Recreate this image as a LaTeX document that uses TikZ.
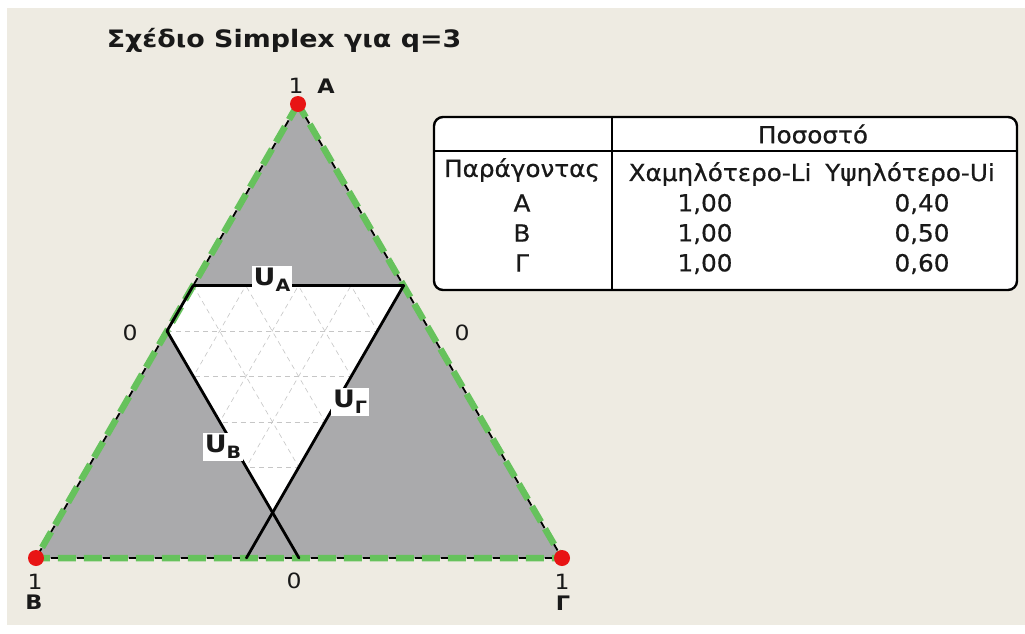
\documentclass[tikz,border=0pt]{standalone}
\usepackage{fontspec}
\setmainfont{DejaVu Sans}[FakeStretch=1.12]
\newfontfamily\tblfont{DejaVu Sans}[FakeStretch=1.05, FakeBold=0.6]
\usetikzlibrary{calc}
\definecolor{bg}{RGB}{238,235,226}
\definecolor{tri}{RGB}{170,170,172}
\definecolor{grn}{RGB}{102,194,92}
\definecolor{dotred}{RGB}{232,20,20}
\definecolor{gridc}{RGB}{198,198,198}
\definecolor{txt}{RGB}{25,25,25}
\tikzset{
  edgegreen/.style={draw=grn, line width=6.5pt, dash pattern=on 18pt off 8pt},
  edgeblack/.style={draw=black, line width=1.8pt, dash pattern=on 7pt off 19pt, dash phase=-19pt},
  bound/.style={draw=black, line width=2.8pt, line cap=round},
  gridline/.style={draw=gridc, line width=0.6pt, dash pattern=on 5pt off 4pt},
  vdot/.style={circle, fill=dotred, inner sep=0pt, minimum size=16pt},
  tlabel/.style={font=\tblfont\fontsize{23.5}{25}\selectfont, text=txt, inner sep=0pt},
  axlabel/.style={font=\fontsize{21}{23}\selectfont, text=txt, inner sep=0pt},
  axbold/.style={font=\bfseries\fontsize{20}{22}\selectfont, text=txt, inner sep=0pt},
  ulabel/.style={fill=white, font=\bfseries\fontsize{24}{26}\selectfont, text=txt, inner sep=2pt}
}
\newcommand{\ulab}[1]{U\raisebox{-0.45ex}{\fontsize{17}{17}\selectfont #1}}
\begin{document}
\begin{tikzpicture}[x=1pt,y=-1pt]
\useasboundingbox (0,0) rectangle (1025,633);
\fill[white] (0,0) rectangle (1025,633);
\fill[bg] (7,8) rectangle (1025,625);

% title
\node[font=\bfseries\fontsize{24}{27}\selectfont, text=txt, inner sep=0pt] (title) at (284,40) {Σχέδιο Simplex για q=3};

% vertices
\coordinate (A) at (298,104);
\coordinate (B) at (36,558);
\coordinate (G) at (562,558);

% gray triangle
\fill[tri] (A) -- (B) -- (G) -- cycle;

% feasible region
\coordinate (P1) at (barycentric cs:A=0.6,B=0.4,G=0);
\coordinate (P2) at (barycentric cs:A=0.6,B=0,G=0.4);
\coordinate (P3) at (barycentric cs:A=0.1,B=0.5,G=0.4);
\coordinate (P4) at (barycentric cs:A=0.5,B=0.5,G=0);
\coordinate (QB) at (barycentric cs:A=0,B=0.5,G=0.5);
\coordinate (QG) at (barycentric cs:A=0,B=0.6,G=0.4);
\fill[white] (P1) -- (P2) -- (P3) -- (P4) -- cycle;
\begin{scope}
\clip (P1) -- (P2) -- (P3) -- (P4) -- cycle;
\foreach \k in {0.1,0.2,0.3,0.4,0.5,0.6,0.7,0.8,0.9}{
  \pgfmathsetmacro\m{1-\k}
  \draw[gridline] (barycentric cs:A=\k,B=\m,G=0) -- (barycentric cs:A=\k,B=0,G=\m);
  \draw[gridline] (barycentric cs:B=\k,A=\m,G=0) -- (barycentric cs:B=\k,A=0,G=\m);
  \draw[gridline] (barycentric cs:G=\k,A=\m,B=0) -- (barycentric cs:G=\k,A=0,B=\m);
}
\end{scope}

% triangle edges
\draw[edgegreen] (A) -- (B) -- (G) -- cycle;
\draw[edgeblack] (A) -- (B) -- (G) -- cycle;

% bound lines
\draw[bound] (P1) -- (P2);
\draw[bound] (P2) -- (QG);
\draw[bound] (P4) -- (QB);
\draw[bound] (P1) -- (P4);

% labels on bounds
\node[ulabel] (uA) at (272,280) {\ulab{A}};
\node[ulabel] (uB) at (223,447) {\ulab{B}};
\node[ulabel] (uG) at (350,402) {\ulab{Γ}};

% vertex dots
\node[vdot] (dA) at (A) {};
\node[vdot] (dB) at (B) {};
\node[vdot] (dG) at (G) {};

% axis labels
\node[axlabel] (oneA) at (296,86) {1};
\node[axbold] (labA) at (326,86) {A};
\node[axlabel] (oneB) at (35,582) {1};
\node[axbold] (labB) at (34,602) {B};
\node[axlabel] (oneG) at (562,582) {1};
\node[axbold] (labG) at (563,603) {Γ};
\node[axlabel] (zeroL) at (130,333) {0};
\node[axlabel] (zeroR) at (462,333) {0};
\node[axlabel] (zeroB) at (294,581) {0};

% table
\node[draw=black, fill=white, line width=2.4pt, rounded corners=9pt, minimum width=583pt, minimum height=173pt, inner sep=0pt] (tbl) at (725.5,203.5) {};
\draw[line width=1.3pt] (612,117) -- (612,290);
\draw[line width=1.3pt] (434,151) -- (1017,151);
\node[tlabel] (hdr) at (813,134) {Ποσοστό};
\node[tlabel] (fac) at (522,170) {Παράγοντας};
\node[tlabel] (lo) at (720,174) {Χαμηλότερο-Li};
\node[tlabel] (hi) at (910,174) {Υψηλότερο-Ui};
\node[tlabel] (rA) at (522,203) {A};
\node[tlabel] (rB) at (522,233) {B};
\node[tlabel] (rG) at (522,263) {Γ};
\node[tlabel] (lA) at (705,204) {1,00};
\node[tlabel] (lB) at (705,234) {1,00};
\node[tlabel] (lG) at (705,264) {1,00};
\node[tlabel] (hA) at (922,204) {0,40};
\node[tlabel] (hB) at (922,234) {0,50};
\node[tlabel] (hG) at (922,264) {0,60};
\end{tikzpicture}
\end{document}
